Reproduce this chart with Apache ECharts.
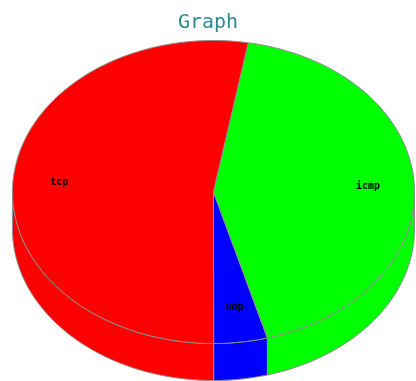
<!DOCTYPE html>
<html>
<head>
<meta charset="utf-8">
<script src="https://cdn.jsdelivr.net/npm/echarts@6/dist/echarts.min.js"></script>
<style>html,body{margin:0;padding:0;background:#fff}#c{width:416px;height:381px}</style>
</head>
<body>
<div id="c"></div>
<script>
// Data (slices run counter-clockwise from the start angle)
var categories = ['tcp', 'udp', 'icmp'];
var values = [52.8, 4.3, 42.9];
var colors = ['#ff0000', '#0000ff', '#00ff00'];
var titleText = 'Graph';

// Layout of the 3D pie
var CX = 213.5, CY = 192, RX = 201, RY = 151.5, DEPTH = 37, START = 80, LABEL_R = 0.77;
var EDGE = '#8e8e8e';

var total = values.reduce(function (a, b) { return a + b; }, 0);
var starts = [], ends = [];
(function () {
  var acc = START;
  for (var i = 0; i < values.length; i++) {
    starts.push(acc);
    acc += values[i] / total * 360;
    ends.push(acc);
  }
})();

function pt(deg, dy) {
  var r = deg * Math.PI / 180;
  return [CX + RX * Math.cos(r), CY - RY * Math.sin(r) + (dy || 0)];
}
function arc(a, b, dy) {
  var pts = [], n = Math.max(2, Math.ceil(Math.abs(b - a)));
  for (var i = 0; i <= n; i++) pts.push(pt(a + (b - a) * i / n, dy));
  return pts;
}

function renderSide(params, api) {
  var i = params.dataIndex, a = starts[i], b = ends[i];
  var children = [];
  for (var k = -1; k <= 2; k++) {
    var lo = Math.max(a, 180 + 360 * k), hi = Math.min(b, 360 + 360 * k);
    if (lo < hi) {
      var top = arc(lo, hi, 0), bot = arc(hi, lo, DEPTH);
      children.push({
        type: 'polygon',
        shape: { points: top.concat(bot) },
        style: { fill: colors[i], stroke: EDGE, lineWidth: 1 }
      });
    }
  }
  return { type: 'group', children: children };
}

function renderTop(params, api) {
  var i = params.dataIndex, a = starts[i], b = ends[i];
  var pts = [[CX, CY]].concat(arc(a, b, 0));
  var mid = (a + b) / 2 * Math.PI / 180;
  var lx = CX + RX * LABEL_R * Math.cos(mid), ly = CY - RY * LABEL_R * Math.sin(mid);
  return {
    type: 'group',
    children: [
      { type: 'polygon', shape: { points: pts },
        style: { fill: colors[i], stroke: EDGE, lineWidth: 1 } },
      { type: 'text', z2: 10,
        style: { text: categories[i], x: lx, y: ly, fill: '#000',
          font: 'bold 10px "DejaVu Sans Mono", monospace',
          align: 'center', verticalAlign: 'middle' } }
    ]
  };
}

var chart = echarts.init(document.getElementById('c'), null, { renderer: 'canvas' });
var data = values.map(function (v, i) { return { name: categories[i], value: v }; });
chart.setOption({
  animation: false,
  backgroundColor: '#ffffff',
  title: {
    text: titleText, left: 'center', top: 8,
    textStyle: { color: '#2f8a8e', fontFamily: 'DejaVu Sans Mono', fontSize: 20, fontWeight: 'normal' }
  },
  series: [
    { type: 'custom', coordinateSystem: 'none', z: 1, renderItem: renderSide, data: data, silent: true },
    { type: 'custom', coordinateSystem: 'none', z: 2, renderItem: renderTop, data: data, silent: true }
  ]
});
</script>
</body>
</html>
